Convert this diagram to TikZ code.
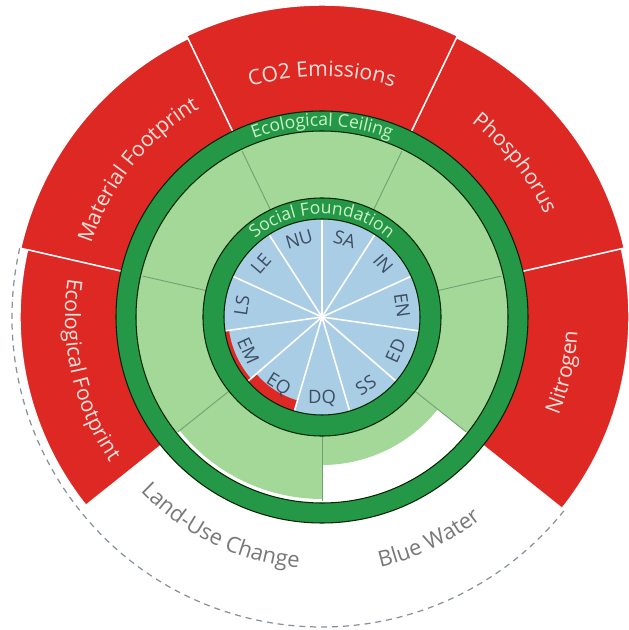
\documentclass[tikz,border=0pt]{standalone}
\usepackage{fontspec}
\setmainfont{Open Sans}
\usepackage{tikz}
\usetikzlibrary{decorations.text}

\definecolor{rouge}{RGB}{222,40,36}
\definecolor{rougepale}{RGB}{255,228,222}
\definecolor{vertclair}{RGB}{163,216,152}
\definecolor{vertfonce}{RGB}{36,152,70}
\definecolor{bleu}{RGB}{170,205,230}
\definecolor{texteanneau}{RGB}{205,242,200}
\definecolor{textebleu}{RGB}{60,78,100}
\definecolor{gristexte}{RGB}{120,120,120}
\definecolor{gristirets}{RGB}{135,145,155}
\definecolor{lignevert}{RGB}{110,160,115}

\newcommand{\policerouge}{\fontsize{12}{14}\selectfont}
\newcommand{\policeanneau}{\fontsize{10}{12}\selectfont}
\newcommand{\policegris}{\fontsize{12.5}{15}\selectfont}

\tikzset{depasse/.style={
    fill=rouge,
    draw=white,
    line width=0.8pt}}
\tikzset{zone/.style={
    fill=vertclair}}
\tikzset{anneau/.style={
    fill=vertfonce,
    even odd rule}}
\tikzset{bord/.style={
    draw=black!85!green,
    line width=0.6pt}}
\tikzset{rayon/.style={
    draw=white,
    line width=0.9pt}}
\tikzset{limite/.style={
    draw=lignevert,
    line width=0.5pt}}
\tikzset{tirets/.style={
    draw=gristirets,
    line width=0.7pt,
    dash pattern=on 3.4pt off 2.8pt}}
\tikzset{etiq/.style={
    text=textebleu,
    font=\fontsize{10.5}{12}\selectfont,
    inner sep=0pt}}
\tikzset{courbe/.style={
    decorate,
    decoration={text along path, text align=center}}}

\begin{document}
\begin{tikzpicture}[x=0.2mm,y=0.2mm]
\useasboundingbox (-322,-313) rectangle (307,317);

  % limite extérieure
  \draw[tirets] (167.14:310) arc[start angle=167.14, end angle=321.43, radius=310];

  % dépassements
  \foreach \i/\R in {1/307,2/310,3/312,4/309,5/302}{
    \pgfmathsetmacro{\a}{270+\i*360/7}
    \pgfmathsetmacro{\b}{\a+360/7}
    \filldraw[depasse] (\a:200) arc[start angle=\a, end angle=\b, radius=200]
      -- (\b:\R) arc[start angle=\b, end angle=\a, radius=\R] -- cycle;
  }

  % zone sûre
  \foreach \i/\R in {0/148,1/186,2/186,3/186,4/186,5/186,6/182}{
    \pgfmathsetmacro{\a}{270+\i*360/7}
    \pgfmathsetmacro{\b}{\a+360/7}
    \fill[zone] (\a:110) arc[start angle=\a, end angle=\b, radius=110]
      -- (\b:\R) arc[start angle=\b, end angle=\a, radius=\R] -- cycle;
  }
  \foreach \i in {0,...,6}
    \draw[limite] ({270+\i*360/7}:119) -- ({270+\i*360/7}:184);

  % plafond écologique
  \fill[anneau] (0,0) circle (206) circle (186);
  \draw[bord] (0,0) circle (206) (0,0) circle (186);

  % plancher social
  \fill[bleu] (0,0) circle (98);
  \fill[rouge] (188.18:94) arc[start angle=188.18, end angle=220.91, radius=94]
    -- (220.91:98) arc[start angle=220.91, end angle=188.18, radius=98] -- cycle;
  \fill[rouge] (220.91:87) arc[start angle=220.91, end angle=253.64, radius=87]
    -- (253.64:98) arc[start angle=253.64, end angle=220.91, radius=98] -- cycle;
  \foreach \i in {0,...,10}
    \draw[rayon] (0,0) -- ({90-\i*360/11}:98);
  \fill[anneau] (0,0) circle (119) circle (98);
  \draw[bord] (0,0) circle (119) (0,0) circle (98);

  \foreach \ang/\lab/\rot in {106.36/NU/16.36, 73.64/SA/-16.36, 40.91/IN/-49.09,
      8.18/EN/-81.82, -24.55/ED/65.45, -57.27/SS/32.73, -90/DQ/0,
      -122.73/EQ/-32.73, -155.45/EM/-65.45, 171.82/LS/81.82, 139.09/LE/49.09}
    \node[etiq, rotate=\rot] (\lab) at (\ang:81) {\lab};

  % textes
  \path[courbe, decoration={text color=texteanneau, text={|\policeanneau|Ecological Ceiling}}]
    (130:191) arc[start angle=130, end angle=50, radius=191];
  \path[courbe, decoration={text color=texteanneau, text={|\policeanneau|Social Foundation}}]
    (150:103) arc[start angle=150, end angle=30, radius=103];

  \path[courbe, decoration={text color=rougepale, text={|\policerouge|CO2 Emissions}}]
    (120:241) arc[start angle=120, end angle=60, radius=241];
  \path[courbe, decoration={text color=rougepale, text={|\policerouge|Phosphorus}}]
    (68.57:245) arc[start angle=68.57, end angle=8.57, radius=245];
  \path[courbe, decoration={text color=rougepale, text={|\policerouge|Material Footprint}}]
    (171.43:242) arc[start angle=171.43, end angle=111.43, radius=242];
  \path[courbe, decoration={text color=rougepale, text={|\policerouge|Nitrogen}}]
    (-42.86:256) arc[start angle=-42.86, end angle=17.14, radius=256];
  \path[courbe, decoration={text color=rougepale, text={|\policerouge|Ecological Footprint}}]
    (162.86:257) arc[start angle=162.86, end angle=222.86, radius=257];

  \path[courbe, decoration={text color=gristexte, text={|\policegris|Land-Use Change}}]
    (-145.71:252) arc[start angle=-145.71, end angle=-85.71, radius=252];
  \path[courbe, decoration={text color=gristexte, text={|\policegris|Blue Water}}]
    (-94.29:257) arc[start angle=-94.29, end angle=-34.29, radius=257];
\end{tikzpicture}
\end{document}
